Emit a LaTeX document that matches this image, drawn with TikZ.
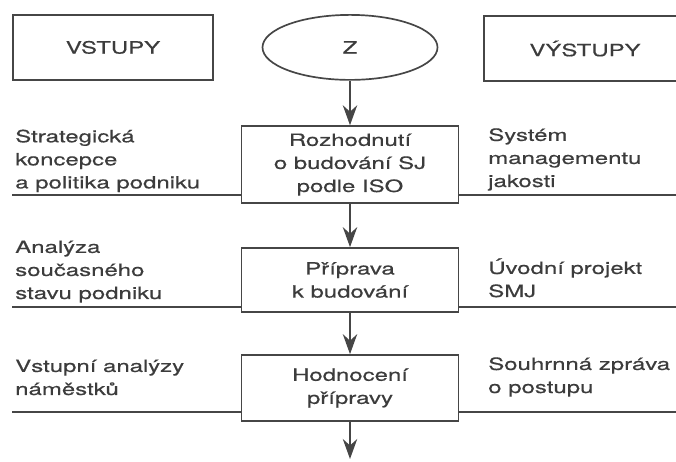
\documentclass[tikz,border=0pt]{standalone}
\usepackage{fontspec}
\setmainfont{TeX Gyre Heros}[FakeStretch=1.42, FakeBold=0.5]
\usepackage{tikz}
\usetikzlibrary{positioning, arrows.meta, shapes.geometric}
\definecolor{inkgray}{RGB}{60,60,60}
\definecolor{linegray}{RGB}{70,70,70}

\begin{document}
\begin{tikzpicture}[
    font=\fontsize{12}{16.4}\selectfont,
    procbox/.style={rectangle, draw=linegray, text=inkgray, line width=1.2pt, minimum width=5.425cm, align=center},
    sidetext/.style={anchor=base west, align=left, inner sep=0pt, text=inkgray},
    flow/.style={-{Stealth[length=5mm, width=3.6mm]}, line width=1.2pt, linegray},
    rule/.style={line width=1.2pt, linegray}
]
    \useasboundingbox (0, 0) rectangle (16.9, 11.525);
    \clip (0, 0) rectangle (16.9, 11.525);

    % === ZAHLAVI ===
    \node[procbox, minimum width=5cm, minimum height=1.625cm] (vstupy) at (2.825, 10.34) {VSTUPY};
    \node[ellipse, draw=linegray, text=inkgray, line width=1.2pt, minimum width=4.375cm, minimum height=1.625cm] (start) at (8.75, 10.34) {Z};
    \node[procbox, minimum width=5.05cm, minimum height=1.625cm] (vystupy) at (14.625, 10.31) {VÝSTUPY};

    % === KROKY ===
    \node[procbox, minimum height=1.925cm] (decision) at (8.75, 7.41) {Rozhodnutí\\o budování SJ\\podle ISO};
    \node[procbox, minimum height=1.6cm] (prepare) at (8.75, 4.525) {Příprava\\k budování};
    \node[procbox, minimum height=1.65cm] (review) at (8.75, 1.825) {Hodnocení\\přípravy};
    \coordinate (flowend) at (8.75, 0.05);

    % Sipky
    \draw[flow] (start.south) -- (decision.north);
    \draw[flow] (decision.south) -- (prepare.north);
    \draw[flow] (prepare.south) -- (review.north);
    \draw[flow] (review.south) -- (flowend);

    % === VSTUPY ===
    \node[sidetext] (in1) at (0.375, 6.815) {Strategická\\koncepce\\a politika podniku};
    \node[sidetext] (in2) at (0.375, 4.05) {Analýza\\současného\\stavu podniku};
    \node[sidetext] (in3) at (0.375, 1.65) {Vstupní analýzy\\náměstků};

    % === VYSTUPY ===
    \node[sidetext] (out1) at (12.2, 6.85) {Systém\\managementu\\jakosti};
    \node[sidetext] (out2) at (12.2, 4.1) {Úvodní projekt\\SMJ};
    \node[sidetext] (out3) at (12.2, 1.7) {Souhrnná zpráva\\o postupu};

    % Vodorovne cary
    \coordinate (inL1) at (0.3, 6.65);
    \coordinate (inL2) at (0.3, 3.85);
    \coordinate (inL3) at (0.3, 1.225);
    \coordinate (outR1) at (16.9, 6.65);
    \coordinate (outR2) at (16.9, 3.85);
    \coordinate (outR3) at (16.9, 1.225);
    \draw[rule] (inL1) -- (inL1 -| decision.west);
    \draw[rule] (inL2) -- (inL2 -| prepare.west);
    \draw[rule] (inL3) -- (inL3 -| review.west);
    \draw[rule] (decision.east |- outR1) -- (outR1);
    \draw[rule] (prepare.east |- outR2) -- (outR2);
    \draw[rule] (review.east |- outR3) -- (outR3);

\end{tikzpicture}
\end{document}
